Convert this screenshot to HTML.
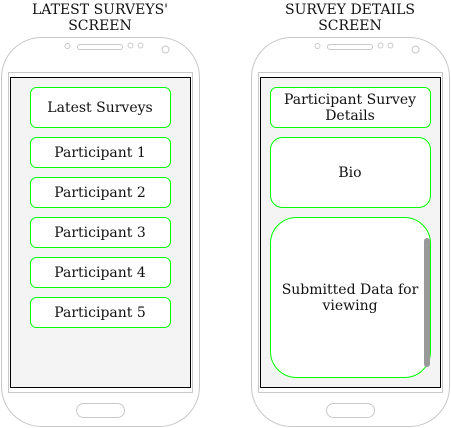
<!DOCTYPE html>
<html><head><meta charset="utf-8"><style>
html,body{margin:0;padding:0;background:#fff;width:451px;height:428px;overflow:hidden}
svg text{font-family:"DejaVu Serif","Liberation Serif",serif;font-size:14px;fill:#111;text-anchor:middle}
</style></head><body>
<svg width="451" height="428" viewBox="0 0 451 428" xmlns="http://www.w3.org/2000/svg">
<g id="p1">
<text x="100" y="14">LATEST SURVEYS'</text>
<text x="100" y="30">SCREEN</text>
<rect x="1.5" y="37.5" width="198" height="389" rx="40" fill="#fff" stroke="#c8c8c8"/>
<rect x="8.5" y="72.5" width="184" height="320" fill="#fff" stroke="#c8c8c8"/>
<rect x="10.5" y="77.5" width="180" height="310" fill="#f4f4f4" stroke="#000"/>
<rect x="77.5" y="44.5" width="45" height="5" rx="2.5" fill="#fff" stroke="#c8c8c8"/>
<circle cx="67.5" cy="46" r="2.5" fill="#fff" stroke="#c8c8c8"/>
<circle cx="130.5" cy="45.5" r="2.5" fill="#fff" stroke="#c8c8c8"/>
<circle cx="140.5" cy="45.5" r="2.5" fill="#fff" stroke="#c8c8c8"/>
<circle cx="165.5" cy="49.5" r="3.5" fill="#fff" stroke="#c8c8c8"/>
<rect x="76.5" y="403.5" width="48" height="14" rx="7" fill="#fff" stroke="#c8c8c8"/>
<rect x="30.5" y="87.5" width="140" height="40" rx="6" fill="#fff" stroke="#00ff00"/>
<text x="100" y="112">Latest Surveys</text>
<rect x="30.5" y="137.5" width="140" height="30" rx="6" fill="#fff" stroke="#00ff00"/>
<text x="100" y="157">Participant 1</text>
<rect x="30.5" y="177.5" width="140" height="30" rx="6" fill="#fff" stroke="#00ff00"/>
<text x="100" y="197">Participant 2</text>
<rect x="30.5" y="217.5" width="140" height="30" rx="6" fill="#fff" stroke="#00ff00"/>
<text x="100" y="237">Participant 3</text>
<rect x="30.5" y="257.5" width="140" height="30" rx="6" fill="#fff" stroke="#00ff00"/>
<text x="100" y="277">Participant 4</text>
<rect x="30.5" y="297.5" width="140" height="30" rx="6" fill="#fff" stroke="#00ff00"/>
<text x="100" y="317">Participant 5</text>
</g>
<g transform="translate(250,0)">
<text x="100" y="14">SURVEY DETAILS</text>
<text x="100" y="30">SCREEN</text>
<rect x="1.5" y="37.5" width="198" height="389" rx="40" fill="#fff" stroke="#c8c8c8"/>
<rect x="8.5" y="72.5" width="184" height="320" fill="#fff" stroke="#c8c8c8"/>
<rect x="10.5" y="77.5" width="180" height="310" fill="#f4f4f4" stroke="#000"/>
<rect x="77.5" y="44.5" width="45" height="5" rx="2.5" fill="#fff" stroke="#c8c8c8"/>
<circle cx="67.5" cy="46" r="2.5" fill="#fff" stroke="#c8c8c8"/>
<circle cx="130.5" cy="45.5" r="2.5" fill="#fff" stroke="#c8c8c8"/>
<circle cx="140.5" cy="45.5" r="2.5" fill="#fff" stroke="#c8c8c8"/>
<circle cx="165.5" cy="49.5" r="3.5" fill="#fff" stroke="#c8c8c8"/>
<rect x="76.5" y="403.5" width="48" height="14" rx="7" fill="#fff" stroke="#c8c8c8"/>
<rect x="20.5" y="87.5" width="160" height="40" rx="6" fill="#fff" stroke="#00ff00"/>
<text x="100" y="104">Participant Survey</text>
<text x="100" y="120">Details</text>
<rect x="20.5" y="137.5" width="160" height="70" rx="12" fill="#fff" stroke="#00ff00"/>
<text x="100" y="177">Bio</text>
<rect x="20.5" y="217.5" width="160" height="160" rx="26" fill="#fff" stroke="#00ff00"/>
<text x="100" y="294">Submitted Data for</text>
<text x="100" y="310">viewing</text>
<rect x="174" y="238" width="6" height="129" rx="3" fill="#999"/>
</g>
</svg>
</body></html>
